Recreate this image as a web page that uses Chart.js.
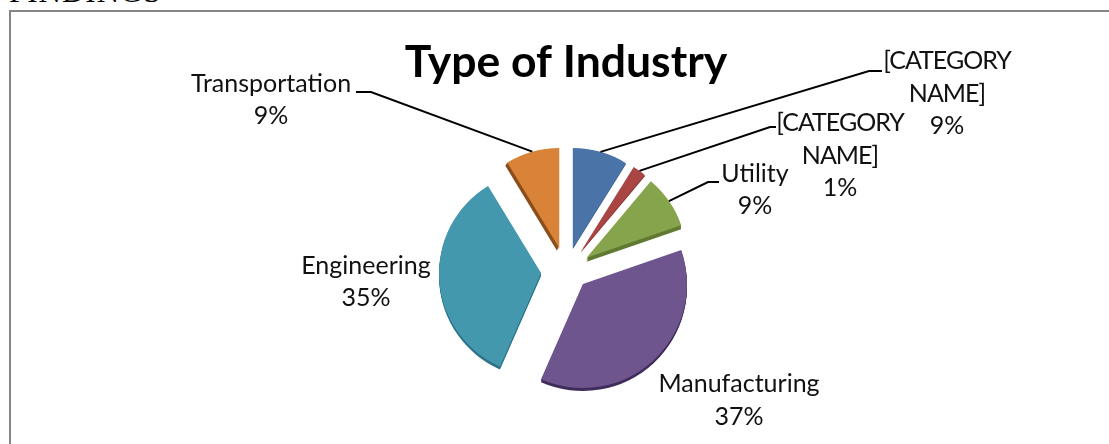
<!DOCTYPE html>
<html><head><meta charset="utf-8">
<style>
html,body{margin:0;padding:0;background:#fff;width:1109px;height:444px;overflow:hidden}
#wrap{position:relative;width:1109px;height:444px;overflow:hidden}
#head{position:absolute;left:9px;top:-24px;font:31px "Liberation Serif",serif;color:#000;line-height:31px;white-space:nowrap;letter-spacing:1px}
#frame{position:absolute;left:9px;top:10px;width:1200px;height:500px;border:2px solid #868686}
canvas{position:absolute;left:0;top:0}
</style></head><body>
<div id="wrap">
<div id="head">FINDINGS</div>
<div id="frame"></div>
<canvas id="c" width="1109" height="444"></canvas>
</div>
<script src="https://cdn.jsdelivr.net/npm/chart.js@4"></script>
<script>
const titleText = "Type of Industry";
const categories = ["[CATEGORY NAME]", "[CATEGORY NAME]", "Utility", "Manufacturing", "Engineering", "Transportation"];
const shares = [8.9, 2.2, 8.6, 36.9, 34.7, 8.7];
const faceColors = ["#4a74a8", "#a94543", "#86a44b", "#6f558e", "#4398ae", "#d98338"];
const sideColors = ["#38588a", "#7d2f2e", "#617a33", "#3f2d5c", "#2e7488", "#8a4e1c"];
const labelLines = [["[CATEGORY", "NAME]", "9%"], ["[CATEGORY", "NAME]", "1%"], ["Utility", "9%"], ["Manufacturing", "37%"], ["Engineering", "35%"], ["Transportation", "9%"]];
const labelCenters = [[947, 61], [840, 123], [755, 173.5], [739, 384], [366, 265.5], [271, 83.5]];
const leaderEnds = [[[869, 71], [882, 71]], [[770, 127], [776, 127]], [[708, 182], [719, 182]], null, null, [[371, 92], [356, 92]]];
const sliceRadius = [100, 100, 100, 104, 102, 100];
const sideDepth = [1, 1, 4, 3, 3, 3];
const explodeDistance = 25;
const frontForeshorten = 0.65;

const explode = {
  id: "explode",
  beforeDatasetsDraw(chart) {
    const area = chart.chartArea;
    const cx = (area.left + area.right) / 2, cy = (area.top + area.bottom) / 2;
    chart.getDatasetMeta(0).data.forEach((arc, i) => {
      const mid = (arc.startAngle + arc.endAngle) / 2;
      const s = Math.sin(mid);
      arc.x = cx + Math.cos(mid) * explodeDistance;
      arc.y = cy + s * explodeDistance * (s > 0 ? frontForeshorten : 1);
      arc.outerRadius = sliceRadius[i];
    });
  }
};
const depth3d = {
  id: "depth3d",
  beforeDatasetsDraw(chart) {
    const ctx = chart.ctx;
    chart.getDatasetMeta(0).data.forEach((arc, i) => {
      const shadow = Object.create(arc);
      shadow.options = Object.assign({}, arc.options, {backgroundColor: sideColors[i], borderWidth: 0});
      for (let k = sideDepth[i]; k >= 1; k--) {
        ctx.save();
        ctx.translate(i === 5 ? -k * 0.7 : 0, k);
        shadow.draw(ctx);
        ctx.restore();
      }
    });
  }
};
const calloutLabels = {
  id: "calloutLabels",
  afterDatasetsDraw(chart) {
    const ctx = chart.ctx;
    ctx.save();
    chart.getDatasetMeta(0).data.forEach((arc, i) => {
      const ends = leaderEnds[i];
      if (ends) {
        const mid = (arc.startAngle + arc.endAngle) / 2;
        ctx.beginPath();
        ctx.moveTo(arc.x + Math.cos(mid) * arc.outerRadius, arc.y + Math.sin(mid) * arc.outerRadius);
        ends.forEach(p => ctx.lineTo(p[0], p[1]));
        ctx.strokeStyle = "#000";
        ctx.lineWidth = 2;
        ctx.stroke();
      }
      ctx.fillStyle = "#111";
      ctx.textAlign = "center";
      ctx.textBaseline = "middle";
      labelLines[i].forEach((t, n) => {
        ctx.font = '25px Lato, sans-serif';
        ctx.letterSpacing = /^[\[A-Z\]]+$/.test(t) ? "-1px" : "0px";
        ctx.fillText(t, labelCenters[i][0], labelCenters[i][1] + n * 32.5);
      });
    });
    ctx.restore();
  }
};
new Chart(document.getElementById("c"), {
  type: "pie",
  data: {labels: categories, datasets: [{data: shares, backgroundColor: faceColors, borderWidth: 0, offset: 0, hoverOffset: 0, radius: 100}]},
  plugins: [explode, depth3d, calloutLabels],
  options: {
    responsive: false, animation: false,
    layout: {padding: {left: 200, right: 177, top: 0, bottom: 45}},
    plugins: {
      legend: {display: false}, tooltip: {enabled: false},
      title: {display: true, text: titleText, color: "#000",
        font: {family: "Lato, sans-serif", size: 44.5, weight: "bold", lineHeight: 1.2},
        padding: {top: 35.5, bottom: 56.1}}
    }
  }
});
</script>
</body></html>
